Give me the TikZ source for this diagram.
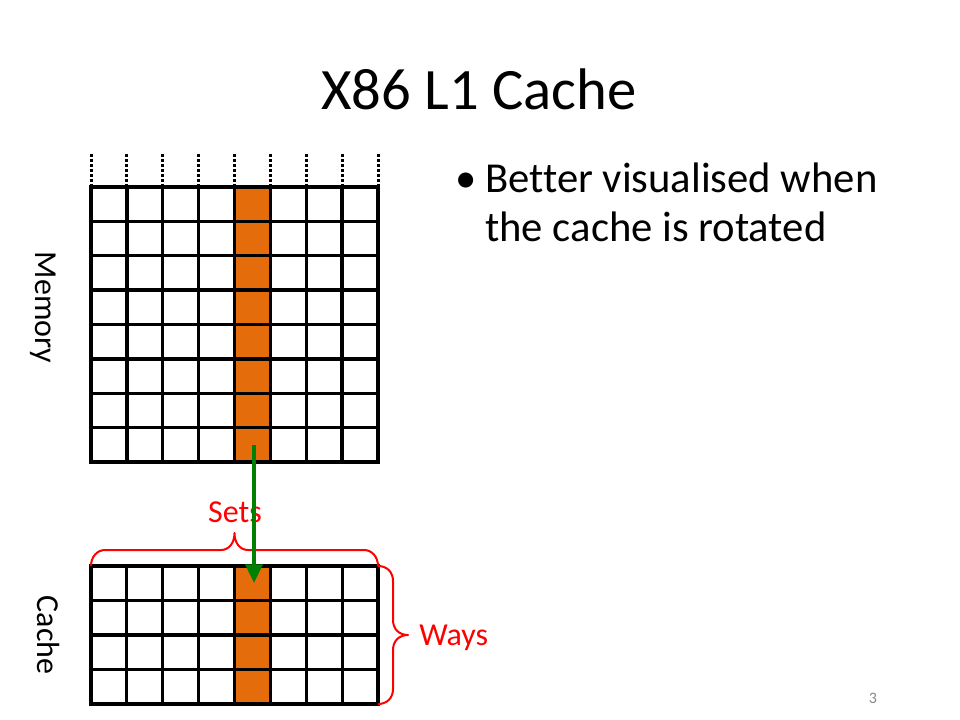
\documentclass[tikz,border=0pt]{standalone}
\usepackage{fontspec}
\setmainfont{Carlito}[Ligatures=NoCommon]
\usetikzlibrary{arrows.meta}
\definecolor{cellorange}{RGB}{228,108,10}
\definecolor{arrowgreen}{RGB}{0,128,0}
\definecolor{bracered}{RGB}{255,0,0}
\definecolor{pagegray}{RGB}{137,137,137}
\tikzset{
  memline/.style={line width=2.5pt, draw=black, line cap=rect},
  cacheline/.style={line width=2.3pt, draw=black, line cap=rect},
  dotline/.style={line width=2.25pt, draw=black, dash pattern=on 2.25pt off 1.5pt},
  bracestyle/.style={draw=bracered, line width=1.5pt, line join=round},
  flowarrow/.style={draw=arrowgreen, line width=2.6pt, -{Triangle[width=12.75pt,length=14pt]}},
  titletext/.style={inner sep=0pt, font=\fontsize{44}{52}\selectfont},
  bodytext/.style={inner sep=0pt, font=\fontsize{32}{38}\selectfont},
  labeltext/.style={inner sep=0pt, font=\fontsize{24}{29}\selectfont},
  redlabel/.style={labeltext, text=bracered},
  pagenum/.style={inner sep=0pt, text=pagegray, font=\fontsize{12}{14}\selectfont}
}
\begin{document}
\begin{tikzpicture}[x=0.75pt,y=-0.75pt]
\useasboundingbox (0,0) rectangle (960,720);
\fill[white] (0,0) rectangle (960,720);

% title
\node[titletext, anchor=base] (title) at (479,110) {X86 L1 Cache};

% bullet text
\node[bodytext, anchor=base] (bullet) at (466,193) {•};
\node[bodytext, anchor=base west] (line1) at (485,193) {Better visualised when};
\node[bodytext, anchor=base west] (line2) at (485,242) {the cache is rotated};

% memory grid
\fill[cellorange] (234.5,187) rectangle (270.375,462);
\foreach \i in {0,...,8} {
  \draw[dotline] ({91+\i*35.875},154) -- ({91+\i*35.875},187);
  \draw[memline] ({91+\i*35.875},187) -- ({91+\i*35.875},462);
}
\foreach \j in {0,...,8} {
  \draw[memline] (91,{187+\j*34.375}) -- (378,{187+\j*34.375});
}
\node[labeltext, rotate=-90, anchor=base] (memlabel) at (36,307.5) {Memory};

% cache grid
\fill[cellorange] (234.5,566) rectangle (270.375,704);
\foreach \i in {0,...,8} {
  \draw[cacheline] ({91+\i*35.875},566) -- ({91+\i*35.875},704);
}
\foreach \j in {0,...,4} {
  \draw[cacheline] (91,{566+\j*34.5}) -- (378,{566+\j*34.5});
}
\node[labeltext, rotate=-90, anchor=base] (cachelabel) at (37,635) {Cache};

% braces
\draw[bracestyle] (91,566) .. controls (91,557) and (97,550) .. (105,550)
  -- (221,550) .. controls (229,550) and (234.5,543) .. (234.5,533)
  .. controls (234.5,543) and (240,550) .. (248,550)
  -- (364,550) .. controls (372,550) and (378,557) .. (378,566);
\node[redlabel, anchor=base] (sets) at (235,522) {Sets};

\draw[bracestyle] (378,566) .. controls (387,566) and (393,572) .. (393,581)
  -- (393,620) .. controls (393,629) and (399,635) .. (408,635)
  .. controls (399,635) and (393,641) .. (393,650)
  -- (393,689) .. controls (393,698) and (387,704) .. (378,704);
\node[redlabel, anchor=base west] (ways) at (419,645) {Ways};

% arrow
\coordinate (arrowstart) at (254,445);
\coordinate (arrowend) at (254,583);
\draw[flowarrow] (arrowstart) -- (arrowend);

% page number
\node[pagenum, anchor=base] (page) at (873,703) {3};
\end{tikzpicture}
\end{document}
